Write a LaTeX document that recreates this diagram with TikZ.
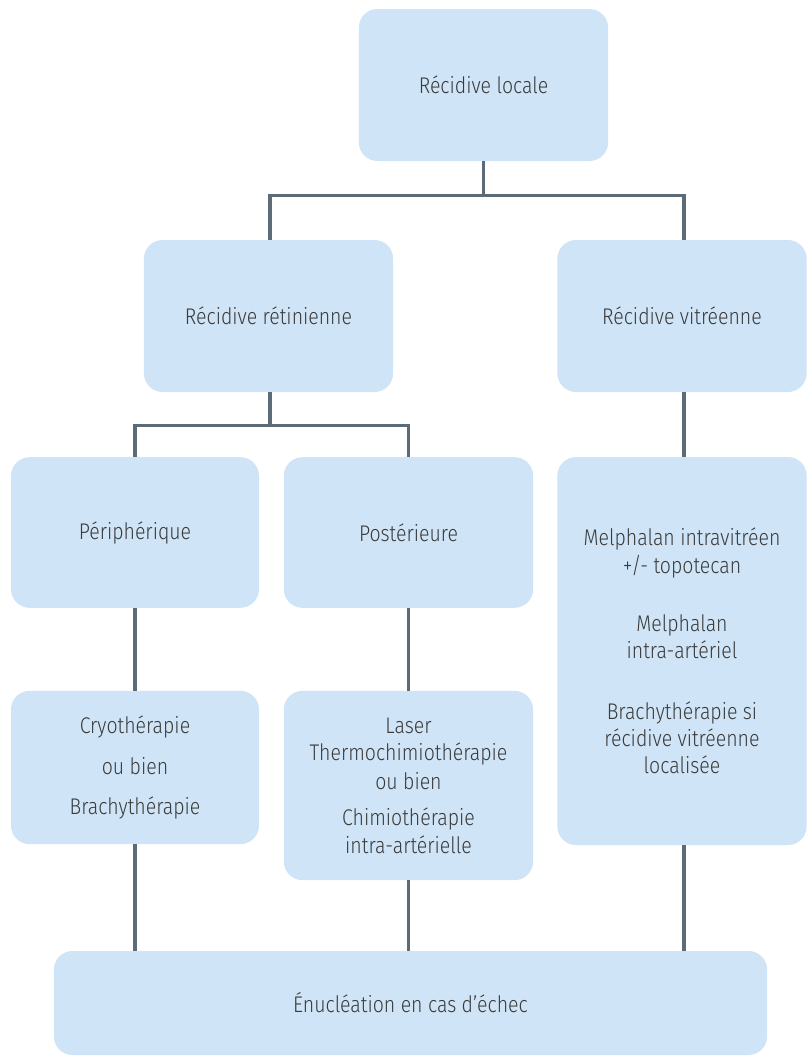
\documentclass[tikz,border=0pt]{standalone}
\usepackage{fontspec}
\setmainfont{Fira Sans Light}[FakeStretch=0.86]
\definecolor{boxblue}{HTML}{CFE4F6}
\definecolor{linegray}{HTML}{5B6B77}
\definecolor{textgray}{HTML}{3A3A3A}
\tikzset{
	box/.style={fill=boxblue, rounded corners=14pt, align=center, text=textgray, inner sep=0pt, font=\fontsize{17}{20.5}\selectfont},
	link/.style={draw=linegray, line width=2.4pt}
}
\begin{document}
\begin{tikzpicture}[x=0.75pt, y=-0.75pt]
			\useasboundingbox (0,0) rectangle (811,1057);
			\node[box, minimum width=187pt, minimum height=114pt] (local) at (483.5,85) {Récidive locale};
			\node[box, minimum width=187pt, minimum height=114pt] (ret) at (268.5,316) {Récidive rétinienne};
			\node[box, minimum width=187pt, minimum height=114pt] (vit) at (682,316) {Récidive vitréenne};
			\node[box, minimum width=186pt, minimum height=113pt] (peri) at (135,532.5) {Périphérique};
			\node[box, minimum width=187pt, minimum height=113pt] (post) at (408.5,532.5) {Postérieure};
			\node[box, minimum width=187pt, minimum height=291pt] (melph) at (682,651) {Melphalan intravitréen\\+/- topotecan\\[23pt]Melphalan\\intra-artériel\\[25pt]Brachythérapie si\\récidive vitréenne\\localisée};
			\node[box, minimum width=186pt, minimum height=115pt] (cryo) at (135,767.5) {Cryothérapie\\[10pt]ou bien\\[10pt]Brachythérapie};
			\node[box, minimum width=187pt, minimum height=142pt] (laser) at (408.5,785.5) {Laser\\Thermochimiothérapie\\[1pt]ou bien\\[7pt]Chimiothérapie\\intra-artérielle};
			\node[box, minimum width=535pt, minimum height=78pt] (enuc) at (410.5,1003) {Énucléation en cas d’échec};
			% connectors
			\draw[link] (local.south) -- ++(0,34) coordinate (split1);
			\draw[link] (ret.north -| 270,0) |- (split1) -| (vit.north -| 684,0);
			\draw[link] (ret.south -| 270,0) -- ++(0,33) coordinate (split2);
			\draw[link] (peri.north) |- (split2) -| (post.north);
			\draw[link] (vit.south -| 684,0) -- (melph.north -| 684,0);
			\draw[link] (peri.south) -- (cryo.north);
			\draw[link] (post.south) -- (laser.north);
			\draw[link] (cryo.south) -- (cryo.south |- enuc.north);
			\draw[link] (laser.south) -- (laser.south |- enuc.north);
			\draw[link] (melph.south -| 684,0) -- (enuc.north -| 684,0);
		\end{tikzpicture}
\end{document}
